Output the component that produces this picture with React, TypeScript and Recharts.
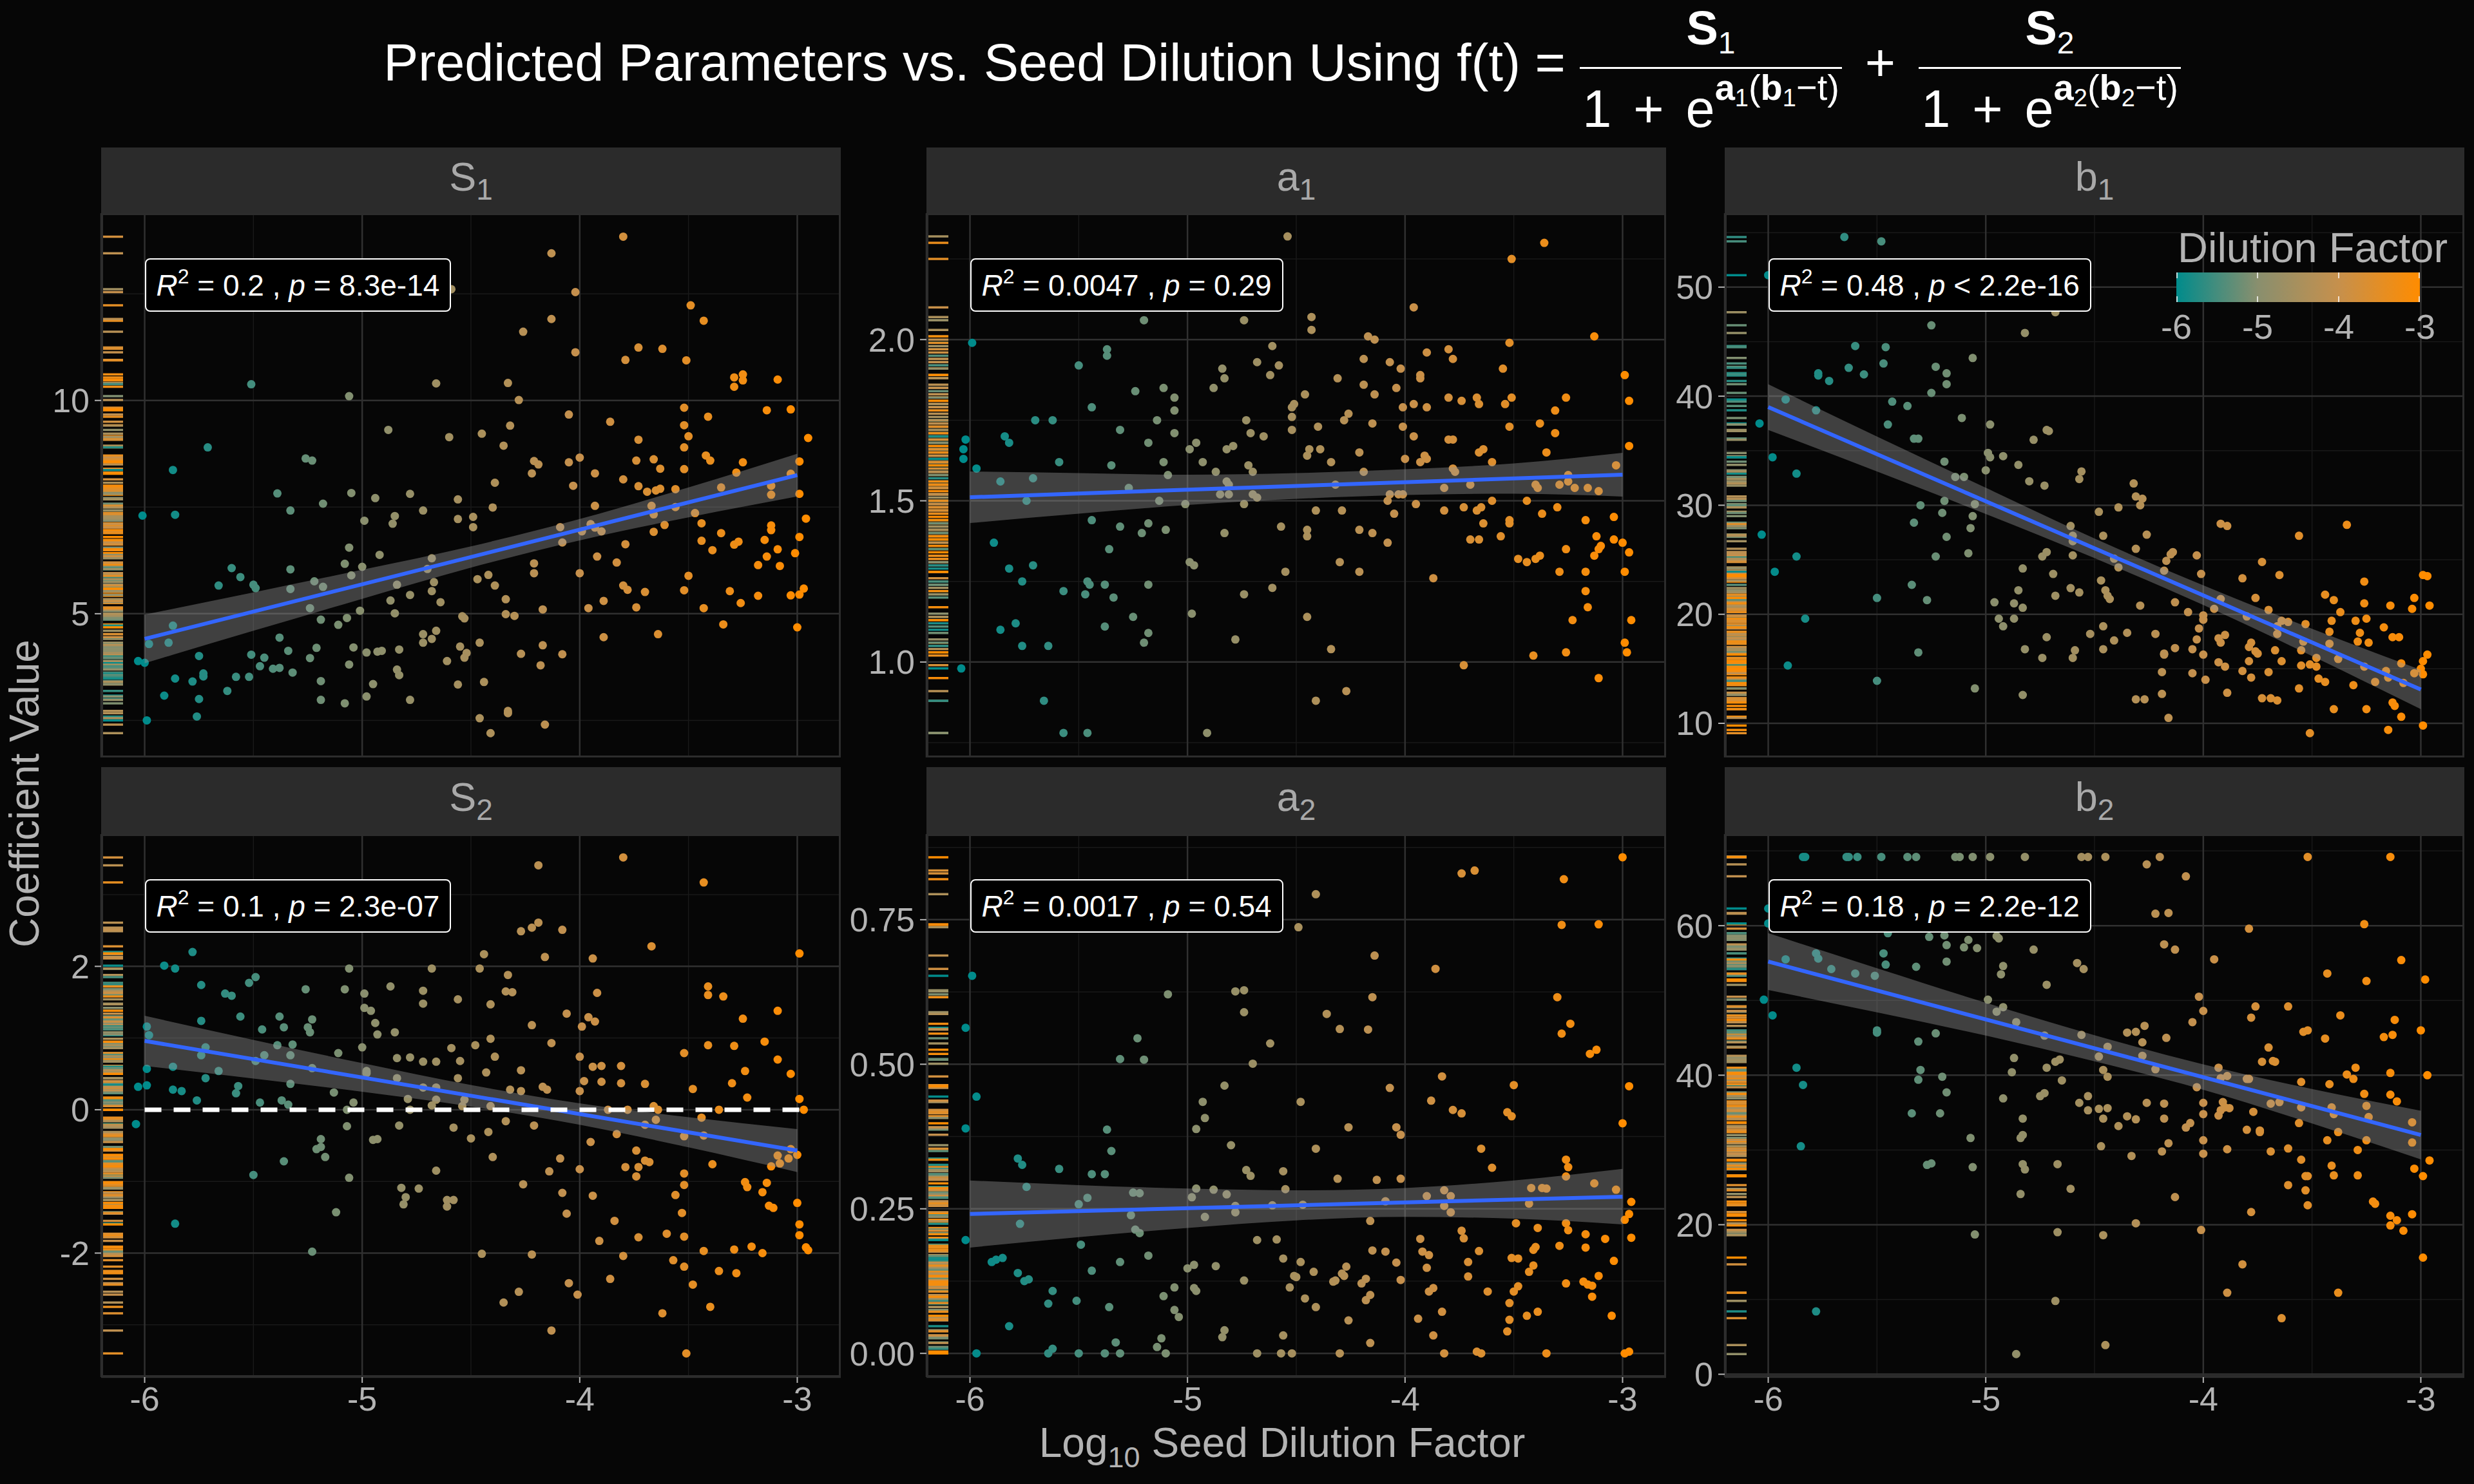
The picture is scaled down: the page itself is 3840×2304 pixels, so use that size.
import React from "react";
import {
  ComposedChart,
  Scatter,
  Area,
  Line,
  XAxis,
  YAxis,
  CartesianGrid,
  ReferenceLine,
} from "recharts";

const FONT = '"Liberation Sans", Arial, Helvetica, sans-serif';
const BG = "#060606";
const STRIP = "#2b2b2b";
const GRID_MAJOR = "#303030";
const GRID_MINOR = "#191919";
const TEXT = "#b3b3b3";
const BLUE = "#3366ff";

// ── shared x scale ───────────────────────────────────────────────
const X_DOMAIN: [number, number] = [-6.2, -2.8];
const X_TICKS = [-6, -5, -4, -3];
const X_MINOR = [-5.5, -4.5, -3.5];
const FIT_X = [-6, -5.5, -5, -4.5, -4, -3.5, -3];
const LEGEND_TICKS = [-6, -5, -4, -3];

// ── S1 ───────────────────────────────────────────────────────────
const S1_POINTS: [number, number][] = [
  [-3.8, 13.84], [-4.13, 13.45], [-4.02, 12.54], [-3.49, 12.23], [-3.43, 11.87], [-4.13, 11.91], [-4.26, 11.61], [-4.02, 11.13],
  [-3.73, 11.24], [-3.62, 11.21], [-3.79, 10.95], [-3.51, 10.94], [-4.33, 10.41], [-4.66, 10.4], [-5.51, 10.38], [-5.06, 10.1],
  [-4.28, 10.01], [-3.29, 10.54], [-3.25, 10.61], [-3.29, 10.32], [-3.25, 10.47], [-3.09, 10.49], [-3.52, 9.83], [-3.14, 9.77],
  [-3.03, 9.79], [-3.41, 9.62], [-4.05, 9.67], [-3.86, 9.5], [-3.52, 9.42], [-4.32, 9.41], [-4.88, 9.31], [-3.5, 9.16],
  [-2.95, 9.12], [-4.6, 9.14], [-4.45, 9.22], [-3.73, 9.08], [-4.35, 8.94], [-3.52, 8.9], [-5.71, 8.9], [-3.42, 8.71],
  [-3.4, 8.59], [-5.26, 8.64], [-5.23, 8.59], [-4.21, 8.58], [-4.19, 8.5], [-4.0, 8.66], [-4.05, 8.55], [-3.74, 8.59],
  [-3.66, 8.62], [-3.25, 8.55], [-2.99, 8.57], [-3.63, 8.4], [-3.52, 8.39], [-5.87, 8.37], [-4.22, 8.29], [-3.93, 8.29],
  [-3.28, 8.31], [-3.03, 8.28], [-4.39, 8.07], [-3.8, 8.15], [-4.03, 8.0], [-3.73, 7.99], [-3.69, 7.86], [-3.65, 7.89],
  [-3.63, 7.93], [-3.56, 7.92], [-3.35, 7.96], [-3.12, 8.0], [-3.12, 7.79], [-2.99, 7.81], [-5.39, 7.82], [-5.05, 7.83],
  [-4.78, 7.81], [-4.94, 7.71], [-4.56, 7.68], [-5.18, 7.58], [-3.93, 7.53], [-3.67, 7.53], [-3.56, 7.5], [-4.4, 7.49],
  [-5.33, 7.42], [-4.72, 7.42], [-3.47, 7.36], [-5.86, 7.32], [-6.01, 7.3], [-2.96, 7.23], [-4.85, 7.29], [-4.49, 7.27],
  [-4.56, 7.22], [-3.66, 7.33], [-4.99, 7.18], [-4.86, 7.11], [-3.44, 7.12], [-3.61, 7.08], [-3.12, 7.07], [-4.49, 7.03],
  [-4.09, 7.03], [-3.95, 7.1], [-3.93, 7.02], [-3.9, 6.93], [-3.99, 6.93], [-3.66, 6.92], [-3.35, 6.89], [-3.12, 6.96],
  [-2.99, 6.8], [-3.44, 6.71], [-3.27, 6.69], [-3.29, 6.62], [-3.15, 6.73], [-4.08, 6.67], [-3.79, 6.63], [-5.06, 6.55],
  [-3.39, 6.49], [-3.09, 6.51], [-3.01, 6.42], [-4.92, 6.38], [-3.14, 6.34], [-3.92, 6.34], [-4.68, 6.3], [-5.08, 6.17],
  [-4.21, 6.18], [-4.21, 5.95], [-3.83, 6.2], [-3.18, 6.14], [-3.08, 6.12], [-5.0, 6.1], [-5.6, 6.07], [-5.33, 6.04],
  [-4.7, 6.05], [-5.56, 5.86], [-5.05, 5.9], [-4.0, 5.95], [-4.42, 5.91], [-3.5, 5.89], [-4.47, 5.81], [-5.22, 5.76],
  [-4.67, 5.74], [-5.5, 5.68], [-5.49, 5.6], [-5.66, 5.66], [-5.18, 5.63], [-4.84, 5.68], [-4.39, 5.66], [-5.33, 5.58],
  [-3.8, 5.66], [-3.78, 5.56], [-3.52, 5.55], [-3.7, 5.51], [-3.31, 5.53], [-3.03, 5.43], [-2.99, 5.45], [-2.97, 5.59],
  [-3.18, 5.42], [-4.68, 5.53], [-4.78, 5.44], [-4.34, 5.34], [-3.26, 5.25], [-4.87, 5.31], [-4.64, 5.27], [-3.89, 5.3],
  [-5.24, 5.13], [-5.01, 5.07], [-3.96, 5.13], [-4.17, 5.1], [-3.74, 5.15], [-3.43, 5.13], [-4.85, 5.01], [-4.34, 4.99],
  [-4.3, 4.95], [-4.54, 4.94], [-4.53, 4.89], [-5.19, 4.86], [-5.07, 4.9], [-5.11, 4.74], [-3.34, 4.75], [-5.87, 4.72],
  [-3.0, 4.68], [-4.66, 4.6], [-4.72, 4.52], [-3.64, 4.52], [-4.68, 4.41], [-5.38, 4.44], [-5.98, 4.29], [-5.89, 4.32],
  [-4.46, 4.32], [-4.72, 4.32], [-3.89, 4.45], [-4.17, 4.26], [-4.55, 4.23], [-5.21, 4.2], [-5.04, 4.21], [-4.83, 4.16],
  [-5.34, 4.13], [-4.93, 4.11], [-4.91, 4.13], [-4.98, 4.09], [-5.51, 4.04], [-5.75, 4.01], [-4.27, 4.06], [-4.08, 4.05],
  [-4.52, 4.08], [-4.53, 3.97], [-5.45, 3.97], [-5.24, 3.96], [-6.03, 3.89], [-6.0, 3.85], [-4.61, 3.89], [-5.06, 3.81],
  [-4.18, 3.79], [-5.47, 3.77], [-5.41, 3.71], [-5.38, 3.73], [-4.84, 3.69], [-4.83, 3.56], [-5.32, 3.62], [-5.73, 3.6],
  [-5.73, 3.53], [-5.58, 3.52], [-5.52, 3.52], [-5.86, 3.48], [-5.78, 3.41], [-5.19, 3.42], [-4.44, 3.4], [-4.56, 3.34],
  [-4.95, 3.35], [-5.62, 3.19], [-5.91, 3.08], [-4.98, 3.06], [-5.75, 3.0], [-5.19, 2.98], [-5.08, 2.9], [-4.78, 2.98],
  [-4.33, 2.72], [-4.33, 2.67], [-5.76, 2.59], [-4.46, 2.55], [-5.99, 2.5], [-4.16, 2.4], [-4.41, 2.2], [-4.59, 12.61],
];
const S1_FIT = [4.41, 8.25];
const S1_HI = [4.98, 5.5, 6.03, 6.58, 7.22, 7.96, 8.75];
const S1_LO = [3.84, 4.6, 5.35, 6.08, 6.72, 7.26, 7.75];

// ── a1 ───────────────────────────────────────────────────────────
const A1_POINTS: [number, number][] = [
  [-4.54, 2.32], [-3.36, 2.3], [-3.51, 2.25], [-3.96, 2.1], [-5.2, 2.06], [-4.74, 2.06], [-4.43, 2.07], [-4.43, 2.03],
  [-5.99, 1.99], [-4.17, 2.01], [-4.14, 2.0], [-3.13, 2.01], [-3.52, 1.99], [-5.37, 1.97], [-5.37, 1.95], [-4.61, 1.98],
  [-3.8, 1.97], [-3.9, 1.96], [-3.78, 1.94], [-4.19, 1.94], [-4.68, 1.93], [-4.07, 1.93], [-4.58, 1.92], [-5.5, 1.92],
  [-4.02, 1.91], [-3.55, 1.91], [-4.84, 1.91], [-4.83, 1.88], [-4.62, 1.89], [-3.93, 1.89], [-3.93, 1.88], [-2.99, 1.89],
  [-4.31, 1.88], [-5.24, 1.84], [-5.11, 1.85], [-4.88, 1.85], [-4.19, 1.86], [-4.04, 1.85], [-4.46, 1.83], [-4.14, 1.83],
  [-3.8, 1.82], [-3.74, 1.81], [-3.67, 1.82], [-3.66, 1.8], [-3.51, 1.82], [-3.26, 1.82], [-2.97, 1.81], [-5.06, 1.82],
  [-3.96, 1.8], [-3.9, 1.79], [-3.54, 1.8], [-4.51, 1.8], [-4.52, 1.79], [-5.44, 1.79], [-5.06, 1.78], [-4.01, 1.79],
  [-3.31, 1.78], [-5.7, 1.75], [-5.62, 1.75], [-5.14, 1.75], [-4.73, 1.75], [-4.28, 1.75], [-4.26, 1.77], [-4.52, 1.76],
  [-3.38, 1.74], [-4.15, 1.74], [-4.01, 1.73], [-4.4, 1.73], [-5.31, 1.72], [-4.71, 1.71], [-4.52, 1.72], [-5.06, 1.71],
  [-3.31, 1.71], [-3.52, 1.73], [-4.65, 1.7], [-3.96, 1.7], [-5.84, 1.7], [-6.02, 1.69], [-5.82, 1.68], [-3.8, 1.69],
  [-3.78, 1.69], [-5.18, 1.68], [-4.96, 1.68], [-4.99, 1.66], [-4.82, 1.66], [-4.79, 1.67], [-2.97, 1.67], [-6.03, 1.66],
  [-4.44, 1.66], [-4.45, 1.64], [-4.39, 1.66], [-4.21, 1.65], [-3.66, 1.65], [-3.64, 1.66], [-3.35, 1.65], [-3.91, 1.64],
  [-3.9, 1.63], [-4.0, 1.63], [-6.03, 1.63], [-5.59, 1.62], [-5.11, 1.62], [-4.93, 1.62], [-4.72, 1.61], [-4.34, 1.62],
  [-3.93, 1.62], [-3.6, 1.62], [-5.97, 1.6], [-5.35, 1.61], [-3.78, 1.6], [-3.77, 1.59], [-4.87, 1.59], [-4.7, 1.59],
  [-4.19, 1.59], [-3.03, 1.61], [-3.25, 1.58], [-5.09, 1.58], [-5.71, 1.57], [-5.86, 1.56], [-4.82, 1.56], [-4.81, 1.55],
  [-4.32, 1.55], [-3.7, 1.55], [-3.4, 1.55], [-3.39, 1.54], [-3.29, 1.55], [-3.25, 1.56], [-3.22, 1.54], [-3.16, 1.54],
  [-3.11, 1.53], [-5.27, 1.54], [-3.82, 1.54], [-4.85, 1.52], [-4.81, 1.52], [-4.7, 1.52], [-4.68, 1.51], [-4.07, 1.52],
  [-4.03, 1.52], [-4.01, 1.52], [-5.74, 1.5], [-5.13, 1.5], [-5.01, 1.49], [-4.08, 1.5], [-3.6, 1.5], [-3.44, 1.5],
  [-4.74, 1.49], [-3.95, 1.49], [-3.3, 1.48], [-4.41, 1.47], [-4.29, 1.47], [-3.82, 1.47], [-3.73, 1.48], [-3.67, 1.47],
  [-3.65, 1.48], [-4.05, 1.46], [-3.37, 1.46], [-3.04, 1.45], [-5.44, 1.44], [-3.64, 1.43], [-3.52, 1.44], [-3.52, 1.43],
  [-3.17, 1.44], [-5.31, 1.42], [-5.18, 1.43], [-5.1, 1.41], [-4.57, 1.42], [-4.21, 1.41], [-4.83, 1.4], [-4.45, 1.41],
  [-4.45, 1.39], [-4.15, 1.4], [-5.21, 1.4], [-3.56, 1.39], [-3.7, 1.38], [-3.66, 1.38], [-3.12, 1.39], [-3.04, 1.38],
  [-3.0, 1.37], [-5.89, 1.37], [-4.08, 1.37], [-3.1, 1.36], [-3.11, 1.35], [-3.13, 1.33], [-3.26, 1.35], [-2.97, 1.34],
  [-5.36, 1.35], [-3.48, 1.32], [-3.44, 1.31], [-3.4, 1.32], [-3.38, 1.33], [-4.3, 1.31], [-4.99, 1.31], [-4.97, 1.3],
  [-5.71, 1.3], [-5.82, 1.29], [-4.55, 1.28], [-4.21, 1.28], [-3.29, 1.28], [-3.17, 1.28], [-2.99, 1.28], [-3.87, 1.26],
  [-5.76, 1.25], [-5.46, 1.25], [-5.45, 1.24], [-5.38, 1.24], [-5.18, 1.24], [-4.61, 1.23], [-5.57, 1.22], [-5.47, 1.21],
  [-4.74, 1.21], [-3.17, 1.22], [-5.34, 1.2], [-3.16, 1.17], [-4.98, 1.15], [-5.25, 1.14], [-4.45, 1.14], [-3.23, 1.13],
  [-2.96, 1.13], [-5.79, 1.12], [-5.86, 1.1], [-5.38, 1.11], [-5.18, 1.09], [-4.78, 1.07], [-2.99, 1.06], [-5.76, 1.05],
  [-5.64, 1.05], [-5.2, 1.06], [-4.34, 1.04], [-3.41, 1.02], [-3.26, 1.03], [-2.98, 1.03], [-3.73, 0.99], [-6.04, 0.98],
  [-3.11, 0.95], [-4.27, 0.91], [-4.41, 0.88], [-5.66, 0.88], [-5.57, 0.78], [-5.46, 0.78], [-4.91, 0.78],
];
const A1_FIT = [1.511, 1.581];
const A1_HI = [1.591, 1.586, 1.581, 1.586, 1.598, 1.616, 1.649];
const A1_LO = [1.431, 1.46, 1.487, 1.506, 1.518, 1.522, 1.513];

// ── b1 ───────────────────────────────────────────────────────────
const B1_POINTS: [number, number][] = [
  [-5.65, 54.6], [-5.48, 54.2], [-6.0, 51.1], [-4.68, 47.7], [-5.25, 46.5], [-4.82, 45.8], [-5.6, 44.6], [-5.46, 44.5],
  [-5.47, 43.0], [-5.23, 42.7], [-5.63, 42.6], [-5.06, 43.5], [-5.18, 42.1], [-5.18, 41.1], [-5.77, 42.1], [-5.77, 41.9],
  [-5.56, 42.0], [-5.72, 41.4], [-5.25, 40.3], [-5.92, 39.7], [-5.43, 39.5], [-5.36, 39.1], [-5.78, 38.7], [-5.11, 38.0],
  [-6.04, 37.5], [-5.45, 37.4], [-4.98, 37.4], [-4.72, 36.9], [-4.71, 36.8], [-5.33, 36.1], [-5.31, 36.1], [-4.78, 36.0],
  [-4.99, 34.8], [-4.98, 34.4], [-4.92, 34.5], [-5.98, 34.4], [-5.19, 34.0], [-4.85, 33.7], [-5.0, 33.2], [-5.87, 32.9],
  [-4.56, 33.1], [-5.14, 32.6], [-5.1, 32.6], [-4.57, 32.4], [-4.8, 32.2], [-4.73, 31.8], [-4.32, 32.0], [-4.31, 30.8],
  [-4.28, 30.6], [-4.29, 30.0], [-5.19, 30.4], [-5.05, 30.1], [-5.3, 30.0], [-4.39, 29.8], [-4.48, 29.4], [-5.2, 29.3],
  [-5.06, 29.0], [-5.33, 28.4], [-3.92, 28.3], [-3.89, 28.1], [-3.34, 28.2], [-4.61, 28.1], [-5.07, 27.9], [-3.56, 27.2],
  [-5.18, 27.1], [-6.03, 27.3], [-4.6, 27.2], [-4.6, 26.7], [-4.46, 27.2], [-4.26, 27.3], [-4.31, 26.0], [-4.72, 25.7],
  [-4.74, 25.3], [-4.6, 25.4], [-5.23, 25.3], [-5.08, 25.6], [-5.87, 25.3], [-4.15, 25.5], [-4.14, 25.7], [-4.03, 25.4],
  [-4.41, 25.1], [-4.17, 24.9], [-3.73, 24.8], [-4.39, 24.3], [-4.18, 24.0], [-4.83, 24.2], [-5.97, 23.9], [-4.69, 23.7],
  [-4.01, 23.7], [-3.65, 23.6], [-3.82, 23.3], [-2.99, 23.6], [-2.97, 23.5], [-3.26, 23.0], [-4.47, 23.1], [-4.61, 22.4],
  [-5.34, 22.7], [-4.45, 22.2], [-4.43, 21.4], [-4.44, 21.7], [-4.57, 22.0], [-4.85, 22.2], [-4.68, 21.7], [-5.5, 21.5],
  [-3.92, 21.4], [-3.76, 21.5], [-3.44, 21.8], [-3.4, 21.3], [-5.27, 21.3], [-4.96, 21.1], [-4.87, 21.0], [-4.83, 20.6],
  [-4.13, 21.1], [-3.26, 21.0], [-3.14, 20.8], [-3.03, 21.5], [-3.04, 20.5], [-2.96, 20.8], [-4.29, 20.8], [-3.95, 20.5],
  [-3.7, 20.4], [-4.07, 20.2], [-3.37, 20.2], [-4.0, 19.9], [-4.0, 19.5], [-3.8, 19.8], [-4.94, 19.6], [-5.83, 19.6],
  [-4.87, 19.6], [-3.25, 19.6], [-3.3, 19.4], [-3.41, 19.4], [-3.64, 19.4], [-3.61, 19.3], [-3.53, 19.1], [-3.66, 18.9],
  [-3.66, 18.2], [-4.92, 18.9], [-4.46, 18.9], [-4.02, 18.7], [-3.17, 18.8], [-3.42, 18.4], [-4.52, 18.2], [-4.35, 18.3],
  [-3.9, 18.1], [-3.28, 18.3], [-4.22, 18.2], [-3.13, 17.9], [-3.1, 17.9], [-4.72, 17.9], [-3.93, 17.8], [-3.92, 17.4],
  [-4.03, 17.7], [-4.41, 17.6], [-3.78, 17.4], [-3.54, 17.5], [-3.29, 17.5], [-3.24, 17.4], [-3.42, 17.3], [-3.79, 17.0],
  [-4.13, 16.9], [-4.05, 16.8], [-3.67, 16.7], [-3.55, 16.7], [-3.76, 16.6], [-3.75, 16.4], [-4.82, 16.8], [-4.59, 16.7],
  [-4.6, 16.0], [-4.46, 16.8], [-5.31, 16.5], [-4.18, 16.4], [-4.18, 16.3], [-4.0, 16.3], [-2.97, 16.3], [-4.74, 16.0],
  [-3.48, 16.0], [-3.38, 15.9], [-3.79, 15.7], [-3.93, 15.6], [-3.64, 15.7], [-3.09, 15.5], [-2.99, 15.7], [-3.9, 15.2],
  [-3.55, 15.3], [-3.51, 15.4], [-3.48, 15.2], [-5.91, 15.3], [-3.26, 15.2], [-3.0, 15.0], [-4.19, 14.7], [-3.82, 14.8],
  [-3.7, 14.7], [-3.16, 14.8], [-3.03, 14.6], [-2.99, 14.5], [-4.05, 14.6], [-3.78, 14.2], [-3.15, 14.2], [-3.47, 14.1],
  [-3.44, 13.8], [-3.99, 14.0], [-3.21, 13.8], [-3.08, 13.7], [-5.5, 13.9], [-3.31, 13.5], [-3.56, 13.2], [-5.05, 13.2],
  [-3.89, 12.8], [-4.19, 12.7], [-4.83, 12.6], [-4.31, 12.2], [-4.27, 12.2], [-3.73, 12.3], [-3.69, 12.3], [-3.66, 12.1],
  [-3.13, 11.9], [-3.12, 11.6], [-3.4, 11.3], [-3.25, 11.3], [-3.09, 10.6], [-4.16, 10.5], [-2.99, 9.8], [-3.15, 9.4],
  [-3.51, 9.1],
];
const B1_FIT = [39.0, 13.1];
const B1_HI = [41.1, 36.3, 31.6, 26.95, 22.65, 18.67, 14.9];
const B1_LO = [36.9, 33.1, 29.2, 25.15, 20.85, 16.17, 11.3];

// ── S2 ───────────────────────────────────────────────────────────
const S2_POINTS: [number, number][] = [
  [-3.8, 3.52], [-4.19, 3.41], [-3.43, 3.17], [-4.27, 2.49], [-4.22, 2.54], [-4.19, 2.61], [-4.08, 2.51], [-3.67, 2.28],
  [-5.78, 2.2], [-4.44, 2.17], [-4.16, 2.13], [-3.94, 2.11], [-2.99, 2.18], [-5.91, 2.01], [-5.86, 1.97], [-5.06, 1.97],
  [-4.68, 1.97], [-4.46, 1.97], [-4.33, 1.88], [-5.49, 1.85], [-5.52, 1.77], [-5.74, 1.74], [-4.87, 1.72], [-3.41, 1.72],
  [-3.41, 1.6], [-5.26, 1.68], [-5.08, 1.68], [-4.72, 1.66], [-4.72, 1.48], [-4.34, 1.65], [-4.31, 1.64], [-5.63, 1.62],
  [-5.6, 1.59], [-4.99, 1.62], [-3.92, 1.63], [-3.34, 1.58], [-4.56, 1.54], [-4.41, 1.47], [-4.99, 1.42], [-4.96, 1.38],
  [-3.09, 1.38], [-4.06, 1.34], [-5.56, 1.3], [-5.38, 1.3], [-3.96, 1.29], [-3.25, 1.27], [-5.74, 1.24], [-5.23, 1.26],
  [-4.94, 1.21], [-3.93, 1.23], [-4.22, 1.18], [-3.99, 1.16], [-5.99, 1.16], [-5.98, 1.04], [-5.36, 1.15], [-5.25, 1.15],
  [-5.24, 1.08], [-5.46, 1.12], [-4.85, 1.08], [-4.93, 1.05], [-4.41, 0.99], [-4.13, 0.93], [-3.41, 0.9], [-3.29, 0.89],
  [-3.15, 0.95], [-5.39, 0.9], [-5.32, 0.91], [-4.48, 0.9], [-5.72, 0.87], [-5.0, 0.87], [-4.59, 0.86], [-5.11, 0.79],
  [-3.52, 0.79], [-5.45, 0.76], [-5.74, 0.76], [-5.33, 0.76], [-4.39, 0.74], [-4.0, 0.74], [-4.84, 0.72], [-4.78, 0.73],
  [-3.09, 0.7], [-5.49, 0.68], [-4.72, 0.67], [-4.66, 0.67], [-4.55, 0.68], [-3.94, 0.6], [-3.9, 0.61], [-3.81, 0.61],
  [-5.87, 0.6], [-5.99, 0.57], [-5.23, 0.58], [-4.98, 0.54], [-4.98, 0.51], [-3.24, 0.54], [-5.66, 0.54], [-4.27, 0.55],
  [-4.43, 0.52], [-3.03, 0.5], [-5.72, 0.44], [-4.84, 0.44], [-4.56, 0.44], [-3.98, 0.4], [-3.9, 0.39], [-3.81, 0.37],
  [-3.7, 0.36], [-3.3, 0.37], [-5.33, 0.36], [-5.57, 0.33], [-6.03, 0.32], [-5.99, 0.34], [-4.72, 0.31], [-4.66, 0.31],
  [-4.17, 0.32], [-4.15, 0.28], [-3.48, 0.29], [-5.87, 0.28], [-5.83, 0.26], [-4.32, 0.28], [-4.27, 0.26], [-4.0, 0.26],
  [-5.58, 0.23], [-5.13, 0.24], [-3.23, 0.17], [-4.79, 0.15], [-4.66, 0.14], [-4.53, 0.14], [-2.99, 0.15], [-5.76, 0.13],
  [-5.47, 0.1], [-5.37, 0.13], [-5.34, 0.07], [-5.04, 0.1], [-4.68, 0.06], [-4.54, 0.05], [-4.41, 0.05], [-3.66, 0.05],
  [-5.07, 0.0], [-4.78, 0.0], [-3.87, 0.0], [-3.78, 0.0], [-3.64, 0.0], [-3.36, 0.0], [-2.97, 0.0], [-6.04, -0.2],
  [-3.65, -0.14], [-3.7, -0.21], [-3.44, -0.11], [-4.34, -0.16], [-4.83, -0.22], [-5.07, -0.23], [-4.58, -0.25], [-4.21, -0.22],
  [-4.42, -0.31], [-3.83, -0.34], [-3.52, -0.37], [-3.43, -0.36], [-4.5, -0.4], [-5.19, -0.41], [-4.95, -0.42], [-4.93, -0.41],
  [-3.95, -0.45], [-5.21, -0.55], [-5.19, -0.52], [-3.74, -0.57], [-3.03, -0.55], [-3.0, -0.63], [-5.17, -0.66], [-4.4, -0.66],
  [-4.09, -0.68], [-3.09, -0.64], [-3.08, -0.75], [-3.04, -0.68], [-3.7, -0.71], [-3.68, -0.73], [-5.36, -0.72], [-3.39, -0.76],
  [-3.79, -0.8], [-3.73, -0.8], [-3.12, -0.79], [-4.0, -0.83], [-4.66, -0.85], [-4.14, -0.86], [-5.5, -0.91], [-3.74, -0.93],
  [-5.06, -0.95], [-3.52, -0.89], [-4.26, -1.04], [-3.52, -1.05], [-3.24, -1.01], [-3.23, -1.08], [-3.14, -1.02], [-4.82, -1.09],
  [-4.74, -1.1], [-3.16, -1.15], [-4.08, -1.16], [-4.8, -1.22], [-4.81, -1.32], [-3.94, -1.2], [-3.56, -1.19], [-4.61, -1.26],
  [-4.58, -1.26], [-4.61, -1.35], [-3.13, -1.34], [-3.11, -1.37], [-3.0, -1.3], [-5.12, -1.43], [-4.06, -1.45], [-3.53, -1.44],
  [-3.84, -1.55], [-5.86, -1.59], [-2.99, -1.6], [-2.99, -1.75], [-3.6, -1.73], [-3.52, -1.77], [-3.73, -1.78], [-3.91, -1.83],
  [-2.96, -1.92], [-2.95, -1.96], [-3.29, -1.95], [-3.21, -1.91], [-3.43, -1.97], [-3.16, -2.0], [-5.23, -1.98], [-4.45, -2.01],
  [-4.22, -2.02], [-3.8, -2.04], [-3.57, -2.1], [-3.52, -2.19], [-3.36, -2.25], [-3.28, -2.28], [-3.86, -2.36], [-4.05, -2.42],
  [-3.48, -2.44], [-4.28, -2.54], [-4.01, -2.58], [-4.35, -2.69], [-3.4, -2.75], [-3.62, -2.84], [-4.13, -3.08], [-3.51, -3.4],
];
const S2_FIT = [0.96, -0.57];
const S2_HI = [1.31, 0.975, 0.65, 0.345, 0.09, -0.105, -0.27];
const S2_LO = [0.61, 0.435, 0.25, 0.045, -0.21, -0.525, -0.87];
const S2_ZERO = [-6, -2.97];

// ── a2 ───────────────────────────────────────────────────────────
const A2_POINTS: [number, number][] = [
  [-3.0, 0.858], [-3.74, 0.83], [-3.68, 0.835], [-3.27, 0.82], [-4.41, 0.794], [-4.49, 0.737], [-3.28, 0.741], [-3.11, 0.742],
  [-4.14, 0.688], [-3.86, 0.665], [-5.99, 0.653], [-4.78, 0.626], [-4.74, 0.628], [-5.09, 0.621], [-4.15, 0.616], [-3.3, 0.616],
  [-4.74, 0.59], [-4.36, 0.587], [-6.02, 0.563], [-4.3, 0.561], [-4.17, 0.56], [-3.28, 0.553], [-3.24, 0.57], [-5.23, 0.545],
  [-4.62, 0.536], [-5.31, 0.509], [-5.2, 0.508], [-3.15, 0.518], [-3.12, 0.525], [-4.7, 0.501], [-3.83, 0.479], [-4.83, 0.463],
  [-3.5, 0.464], [-4.07, 0.459], [-2.97, 0.462], [-5.97, 0.444], [-4.93, 0.435], [-4.48, 0.435], [-3.88, 0.437], [-3.78, 0.421],
  [-3.74, 0.415], [-3.53, 0.417], [-3.51, 0.41], [-4.92, 0.407], [-3.0, 0.398], [-6.02, 0.389], [-5.37, 0.387], [-4.96, 0.388],
  [-4.26, 0.391], [-4.04, 0.391], [-4.02, 0.378], [-4.8, 0.36], [-5.35, 0.35], [-4.41, 0.354], [-3.65, 0.354], [-5.78, 0.337],
  [-5.76, 0.326], [-3.26, 0.335], [-3.25, 0.322], [-3.26, 0.306], [-3.6, 0.321], [-5.59, 0.319], [-4.73, 0.317], [-4.71, 0.307],
  [-4.56, 0.315], [-5.44, 0.31], [-5.38, 0.31], [-4.31, 0.302], [-4.13, 0.3], [-4.02, 0.302], [-3.13, 0.294], [-5.74, 0.288],
  [-4.96, 0.285], [-4.55, 0.284], [-4.88, 0.283], [-3.42, 0.286], [-3.37, 0.286], [-3.35, 0.285], [-3.03, 0.283], [-3.82, 0.282],
  [-5.25, 0.278], [-5.22, 0.277], [-4.82, 0.275], [-3.9, 0.272], [-3.79, 0.272], [-4.98, 0.27], [-5.46, 0.269], [-2.96, 0.262],
  [-5.5, 0.258], [-4.61, 0.256], [-4.47, 0.257], [-4.09, 0.263], [-3.43, 0.259], [-4.78, 0.255], [-4.78, 0.244], [-3.82, 0.255],
  [-3.79, 0.244], [-2.97, 0.241], [-2.99, 0.231], [-5.26, 0.239], [-4.92, 0.236], [-4.16, 0.229], [-3.49, 0.225], [-3.26, 0.225],
  [-3.25, 0.213], [-5.77, 0.224], [-3.39, 0.217], [-5.24, 0.214], [-5.22, 0.208], [-3.74, 0.212], [-3.73, 0.199], [-3.17, 0.206],
  [-3.08, 0.198], [-2.96, 0.2], [-3.93, 0.198], [-4.68, 0.196], [-4.59, 0.197], [-6.02, 0.196], [-5.49, 0.188], [-3.29, 0.186],
  [-3.17, 0.183], [-3.92, 0.176], [-3.89, 0.17], [-3.9, 0.148], [-4.15, 0.178], [-4.09, 0.176], [-3.66, 0.177], [-3.41, 0.179],
  [-3.4, 0.184], [-5.18, 0.169], [-3.51, 0.165], [-3.48, 0.164], [-3.04, 0.16], [-4.56, 0.164], [-5.31, 0.158], [-4.48, 0.158],
  [-3.71, 0.158], [-5.9, 0.158], [-5.88, 0.162], [-5.85, 0.165], [-4.04, 0.157], [-4.97, 0.153], [-5.0, 0.147], [-4.87, 0.151],
  [-4.27, 0.15], [-3.41, 0.152], [-5.44, 0.143], [-4.42, 0.141], [-5.78, 0.139], [-3.43, 0.141], [-4.29, 0.138], [-4.28, 0.134],
  [-4.51, 0.134], [-4.5, 0.132], [-4.18, 0.129], [-3.71, 0.133], [-3.11, 0.134], [-5.75, 0.125], [-5.73, 0.128], [-4.74, 0.126],
  [-4.33, 0.124], [-4.32, 0.126], [-4.2, 0.121], [-4.02, 0.127], [-3.26, 0.121], [-3.18, 0.124], [-3.16, 0.119], [-3.14, 0.117],
  [-3.48, 0.116], [-5.06, 0.114], [-4.97, 0.113], [-4.96, 0.108], [-4.53, 0.114], [-3.87, 0.113], [-3.89, 0.107], [-5.62, 0.108],
  [-3.62, 0.107], [-3.5, 0.107], [-5.11, 0.099], [-4.16, 0.101], [-4.18, 0.092], [-4.46, 0.095], [-3.14, 0.098], [-5.51, 0.091],
  [-5.64, 0.086], [-3.52, 0.087], [-5.36, 0.08], [-4.41, 0.08], [-5.06, 0.075], [-5.04, 0.063], [-3.83, 0.072], [-3.39, 0.072],
  [-3.44, 0.065], [-3.05, 0.065], [-3.94, 0.06], [-4.26, 0.057], [-3.52, 0.058], [-5.82, 0.047], [-4.83, 0.04], [-4.84, 0.028],
  [-3.53, 0.038], [-4.56, 0.031], [-3.87, 0.031], [-5.12, 0.026], [-5.33, 0.019], [-4.16, 0.018], [-5.14, 0.011], [-5.62, 0.008],
  [-5.97, 0.0], [-5.64, 0.0], [-5.5, 0.0], [-5.38, 0.0], [-5.31, 0.0], [-5.1, 0.0], [-4.68, 0.0], [-4.57, 0.0],
  [-4.52, 0.0], [-4.3, 0.0], [-3.82, 0.0], [-3.67, 0.003], [-3.65, 0.0], [-3.35, 0.0], [-2.99, 0.0], [-2.97, 0.003],
];
const A2_FIT = [0.241, 0.271];
const A2_HI = [0.299, 0.291, 0.285, 0.282, 0.286, 0.299, 0.319];
const A2_LO = [0.183, 0.201, 0.217, 0.23, 0.236, 0.233, 0.223];

// ── b2 ───────────────────────────────────────────────────────────
const B2_POINTS: [number, number][] = [
  [-5.84, 69.2], [-5.83, 69.2], [-5.64, 69.2], [-5.63, 69.2], [-5.59, 69.2], [-5.48, 69.2], [-5.36, 69.2], [-5.32, 69.2],
  [-5.14, 69.2], [-5.12, 69.2], [-5.06, 69.2], [-4.98, 69.2], [-4.82, 69.2], [-4.56, 69.2], [-4.53, 69.2], [-4.45, 69.2],
  [-4.2, 69.2], [-3.52, 69.2], [-3.14, 69.2], [-4.26, 68.2], [-4.08, 66.6], [-4.22, 61.6], [-4.16, 61.7], [-3.79, 59.6],
  [-3.26, 60.2], [-6.0, 62.3], [-6.0, 60.3], [-5.45, 59.0], [-5.26, 58.5], [-5.19, 58.7], [-5.08, 58.1], [-4.95, 58.6],
  [-4.94, 58.3], [-5.18, 57.4], [-5.1, 57.1], [-5.04, 57.0], [-4.18, 57.5], [-4.13, 56.8], [-4.78, 56.8], [-5.78, 56.3],
  [-5.77, 55.6], [-5.47, 56.3], [-5.92, 55.5], [-3.95, 55.5], [-3.09, 55.4], [-5.18, 55.2], [-5.46, 54.8], [-5.32, 54.5],
  [-4.92, 54.6], [-4.58, 55.0], [-4.55, 54.2], [-5.71, 54.2], [-5.6, 53.6], [-5.51, 53.3], [-4.93, 53.5], [-3.43, 53.6],
  [-3.25, 52.6], [-2.98, 52.8], [-4.72, 52.1], [-6.02, 50.1], [-4.02, 50.5], [-4.99, 50.1], [-5.98, 48.0], [-4.95, 48.5],
  [-4.92, 49.1], [-4.0, 48.6], [-3.76, 49.2], [-3.61, 49.2], [-3.78, 47.7], [-3.37, 48.0], [-4.86, 47.1], [-4.05, 47.1],
  [-3.12, 47.4], [-3.0, 46.0], [-4.27, 46.6], [-4.35, 45.7], [-4.31, 45.8], [-3.54, 45.8], [-3.52, 46.0], [-5.5, 46.0],
  [-5.5, 45.7], [-5.23, 45.6], [-4.56, 45.4], [-3.13, 45.4], [-3.17, 45.1], [-4.17, 45.0], [-3.44, 44.9], [-4.73, 45.3],
  [-5.31, 44.5], [-4.28, 44.4], [-3.7, 43.7], [-4.44, 43.8], [-4.48, 42.5], [-4.28, 42.6], [-4.87, 42.3], [-3.73, 41.8],
  [-3.68, 41.9], [-3.67, 41.8], [-4.66, 42.1], [-4.68, 41.8], [-5.87, 41.0], [-4.72, 41.0], [-4.46, 40.7], [-4.22, 40.8],
  [-3.93, 41.0], [-3.3, 41.0], [-5.3, 40.7], [-5.31, 39.4], [-4.88, 40.4], [-3.34, 40.1], [-3.14, 40.3], [-2.97, 40.0],
  [-5.2, 39.8], [-4.44, 39.8], [-3.89, 39.9], [-3.92, 39.6], [-3.8, 39.5], [-3.79, 39.5], [-3.31, 39.5], [-4.65, 39.3],
  [-5.84, 38.7], [-3.55, 39.1], [-3.42, 38.8], [-4.03, 38.4], [-5.18, 37.7], [-4.73, 37.6], [-4.75, 37.2], [-3.26, 37.5],
  [-3.14, 37.4], [-4.53, 37.2], [-4.92, 36.9], [-3.11, 36.5], [-4.57, 36.3], [-4.26, 36.3], [-4.18, 36.2], [-4.0, 36.3],
  [-3.91, 36.4], [-3.9, 35.7], [-3.88, 35.6], [-3.69, 36.2], [-3.65, 36.4], [-3.55, 35.7], [-3.41, 35.7], [-3.4, 34.8],
  [-3.25, 35.9], [-4.53, 35.3], [-4.48, 35.5], [-4.44, 35.6], [-3.92, 35.3], [-3.77, 35.1], [-4.0, 34.8], [-3.93, 34.6],
  [-5.34, 34.9], [-5.21, 34.9], [-4.35, 34.5], [-3.24, 34.4], [-4.83, 34.2], [-4.46, 34.2], [-4.31, 34.1], [-4.18, 34.2],
  [-4.06, 33.6], [-4.08, 33.0], [-3.56, 33.6], [-3.04, 33.7], [-4.39, 33.2], [-3.8, 32.7], [-3.74, 32.6], [-3.74, 32.4],
  [-3.38, 32.4], [-4.83, 32.0], [-4.84, 31.6], [-5.07, 31.6], [-3.43, 31.3], [-3.25, 31.3], [-4.0, 31.3], [-3.04, 31.0],
  [-5.85, 30.5], [-4.47, 30.5], [-4.16, 30.9], [-3.61, 30.2], [-3.69, 29.8], [-4.19, 29.8], [-3.29, 30.0], [-4.0, 29.5],
  [-3.89, 30.1], [-4.33, 29.2], [-3.55, 28.7], [-2.96, 28.6], [-5.27, 28.0], [-5.25, 28.2], [-4.83, 28.1], [-4.82, 27.4],
  [-4.67, 28.1], [-5.06, 27.7], [-3.41, 27.9], [-3.03, 27.5], [-3.4, 26.6], [-3.29, 26.6], [-3.53, 26.5], [-3.52, 26.5],
  [-2.99, 26.5], [-3.61, 25.3], [-4.61, 24.8], [-3.53, 24.6], [-4.84, 24.1], [-4.13, 23.7], [-3.22, 23.1], [-3.21, 22.8],
  [-3.52, 22.6], [-3.78, 21.7], [-3.04, 21.4], [-3.14, 21.2], [-3.11, 20.6], [-3.14, 19.9], [-3.08, 19.2], [-4.31, 20.2],
  [-4.01, 19.3], [-5.05, 18.7], [-4.46, 18.6], [-4.67, 19.0], [-2.99, 15.6], [-3.82, 14.7], [-3.89, 10.9], [-3.38, 10.9],
  [-4.68, 9.8], [-5.78, 8.4], [-3.64, 7.5], [-4.45, 3.9], [-4.86, 2.7],
];
const B2_FIT = [55.2, 32.0];
const B2_HI = [59.0, 54.3, 49.7, 45.35, 41.45, 38.15, 35.25];
const B2_LO = [51.4, 48.4, 45.3, 41.85, 38.05, 33.55, 28.75];

// ── colour scale (darkcyan -> darkorange) ────────────────────────
const GRAD_STOPS: [number, number[]][] = [
  [-6, [0, 139, 139]],
  [-5, [137, 143, 110]],
  [-4, [198, 144, 76]],
  [-3, [255, 140, 0]],
];
function colorAt(x: number) {
  const v = Math.min(-3, Math.max(-6, x));
  for (let i = 0; i < GRAD_STOPS.length - 1; i++) {
    const [x0, c0] = GRAD_STOPS[i];
    const [x1, c1] = GRAD_STOPS[i + 1];
    if (v <= x1) {
      const t = (v - x0) / (x1 - x0);
      return `rgb(${c0.map((c, k) => Math.round(c + (c1[k] - c) * t)).join(",")})`;
    }
  }
  return "rgb(255,140,0)";
}

// ── layout ───────────────────────────────────────────────────────
const COL_LEFT = [157, 1438, 2677];
const PANEL_W = 1148;
const STRIP_TOP = [229, 1191];
const PANEL_TOP = [331, 1295];
const PANEL_H = [845, 843];
const Y_AXIS_W = 150;
const X_AXIS_H = 90;
const xToPx = (x: number) => ((x - X_DOMAIN[0]) / (X_DOMAIN[1] - X_DOMAIN[0])) * PANEL_W;

type Spec = {
  name: string;
  sub: string;
  r2: string;
  op: string;
  p: string;
  points: [number, number][];
  fit: number[];
  hi: number[];
  lo: number[];
  domain: [number, number];
  ticks: number[];
  minor: number[];
  digits: number;
  zero?: number[];
};

const PANELS: Spec[] = [
  { name: "S", sub: "1", r2: "0.2", op: "=", p: "8.3e-14", points: S1_POINTS, fit: S1_FIT, hi: S1_HI, lo: S1_LO,
    domain: [1.63, 14.39], ticks: [5, 10], minor: [2.5, 7.5, 12.5], digits: 0 },
  { name: "a", sub: "1", r2: "0.0047", op: "=", p: "0.29", points: A1_POINTS, fit: A1_FIT, hi: A1_HI, lo: A1_LO,
    domain: [0.704, 2.392], ticks: [1.0, 1.5, 2.0], minor: [0.75, 1.25, 1.75, 2.25], digits: 1 },
  { name: "b", sub: "1", r2: "0.48", op: "<", p: "2.2e-16", points: B1_POINTS, fit: B1_FIT, hi: B1_HI, lo: B1_LO,
    domain: [6.87, 56.78], ticks: [10, 20, 30, 40, 50], minor: [15, 25, 35, 45, 55], digits: 0 },
  { name: "S", sub: "2", r2: "0.1", op: "=", p: "2.3e-07", points: S2_POINTS, fit: S2_FIT, hi: S2_HI, lo: S2_LO,
    domain: [-3.73, 3.845], ticks: [-2, 0, 2], minor: [-3, -1, 1, 3], digits: 0, zero: S2_ZERO },
  { name: "a", sub: "2", r2: "0.0017", op: "=", p: "0.54", points: A2_POINTS, fit: A2_FIT, hi: A2_HI, lo: A2_LO,
    domain: [-0.041, 0.898], ticks: [0, 0.25, 0.5, 0.75], minor: [0.125, 0.375, 0.625, 0.875], digits: 2 },
  { name: "b", sub: "2", r2: "0.18", op: "=", p: "2.2e-12", points: B2_POINTS, fit: B2_FIT, hi: B2_HI, lo: B2_LO,
    domain: [-0.38, 72.25], ticks: [0, 20, 40, 60], minor: [10, 30, 50, 70], digits: 0 },
];

const Dot = (props: any) => {
  const c = props.payload?.c ?? props.fill;
  return <circle cx={props.cx} cy={props.cy} r={6.5} fill={c} />;
};
const RugTick = (props: any) => {
  const c = props.payload?.c ?? props.fill;
  return <line x1={props.cx} x2={props.cx + 34} y1={props.cy} y2={props.cy} stroke={c} strokeWidth={3.5} />;
};

function Panel({ spec, col, row }: { spec: Spec; col: number; row: number }) {
  const left = COL_LEFT[col];
  const top = PANEL_TOP[row];
  const ph = PANEL_H[row];
  const bottom = row === 1;
  const rows = FIT_X.map((x, i) => ({
    x,
    band: [spec.lo[i], spec.hi[i]],
    fit: i === 0 ? spec.fit[0] : i === FIT_X.length - 1 ? spec.fit[1] : null,
  }));
  const pts = spec.points.map(([x, y]) => ({ x, y, c: colorAt(x) }));
  const rug = spec.points.map(([x, y]) => ({ x: X_DOMAIN[0], y, c: colorAt(x) }));
  const tickStyle = { fontSize: 52, fill: TEXT, fontFamily: FONT };

  return (
    <>
      <div
        style={{
          position: "absolute",
          left,
          top: STRIP_TOP[row],
          width: PANEL_W,
          height: top - STRIP_TOP[row],
          background: STRIP,
          color: "#a9a9a9",
          fontFamily: FONT,
          fontSize: 63,
          lineHeight: 1,
          display: "flex",
          alignItems: "center",
          justifyContent: "center",
          paddingBottom: 12,
          boxSizing: "border-box",
        }}
      >
        <span>
          {spec.name}
          <span style={{ fontSize: 46, position: "relative", top: 14 }}>{spec.sub}</span>
        </span>
      </div>
      <div style={{ position: "absolute", left: left - Y_AXIS_W, top }}>
        <ComposedChart
          width={PANEL_W + Y_AXIS_W}
          height={ph + (bottom ? X_AXIS_H : 0)}
          data={rows}
          margin={{ top: 0, right: 0, bottom: 0, left: 0 }}
        >
          <CartesianGrid
            fill={BG}
            stroke={GRID_MINOR}
            strokeWidth={1.5}
            horizontalValues={spec.minor}
            verticalValues={X_MINOR}
          />
          <CartesianGrid stroke={GRID_MAJOR} strokeWidth={2.5} />
          <XAxis
            dataKey="x"
            type="number"
            domain={X_DOMAIN}
            ticks={X_TICKS}
            interval={0}
            allowDataOverflow
            hide={!bottom}
            height={X_AXIS_H}
            axisLine={false}
            tickSize={9}
            tickMargin={6}
            tickLine={{ stroke: TEXT, strokeWidth: 2 }}
            tick={tickStyle}
          />
          <YAxis
            type="number"
            domain={spec.domain}
            ticks={spec.ticks}
            interval={0}
            allowDataOverflow
            width={Y_AXIS_W}
            axisLine={false}
            tickSize={10}
            tickMargin={8}
            tickLine={{ stroke: TEXT, strokeWidth: 2 }}
            tick={tickStyle}
            tickFormatter={(v: number) => v.toFixed(spec.digits)}
          />
          <Scatter data={pts} dataKey="y" shape={Dot} isAnimationActive={false} zIndex={50} />
          <Scatter data={rug} dataKey="y" shape={RugTick} isAnimationActive={false} zIndex={50} />
          <Area
            dataKey="band"
            type="monotone"
            stroke="none"
            fill="#999999"
            fillOpacity={0.4}
            dot={false}
            activeDot={false}
            isAnimationActive={false}
            zIndex={100}
          />
          <Line
            dataKey="fit"
            type="linear"
            stroke={BLUE}
            strokeWidth={6}
            dot={false}
            activeDot={false}
            connectNulls
            isAnimationActive={false}
            zIndex={400}
          />
          {spec.zero && (
            <ReferenceLine
              segment={[
                { x: spec.zero[0], y: 0 },
                { x: spec.zero[1], y: 0 },
              ]}
              stroke="#ffffff"
              strokeWidth={7}
              strokeDasharray="26 19"
              ifOverflow="visible"
              zIndex={450}
            />
          )}
        </ComposedChart>
      </div>
      <div
        style={{
          position: "absolute",
          left,
          top,
          width: PANEL_W,
          height: ph,
          border: "3px solid #2c2c2c",
          boxSizing: "border-box",
          pointerEvents: "none",
        }}
      />
      <div
        style={{
          position: "absolute",
          left: left + xToPx(-6),
          top: top + 70,
          height: 83,
          padding: "0 16px",
          boxSizing: "border-box",
          border: "2.5px solid #ffffff",
          borderRadius: 8,
          background: "#000",
          color: "#fff",
          fontFamily: FONT,
          fontSize: 46,
          lineHeight: 1,
          display: "flex",
          alignItems: "center",
          whiteSpace: "pre",
        }}
      >
        <span>
          <i>R</i>
          <span style={{ fontSize: 32, position: "relative", top: -19 }}>2</span>
          {` = ${spec.r2} , `}
          <i>p</i>
          {` ${spec.op} ${spec.p}`}
        </span>
      </div>
    </>
  );
}

function Fraction({ sub }: { sub: string }) {
  return (
    <div style={{ display: "inline-flex", flexDirection: "column", alignItems: "center", marginTop: 7 }}>
      <div style={{ lineHeight: 1, height: 80, marginBottom: 17, fontSize: 74 }}>
        <b>S</b>
        <span style={{ fontSize: 48, position: "relative", top: 14 }}>{sub}</span>
      </div>
      <div style={{ height: 3, background: "#fff", alignSelf: "stretch" }} />
      <div style={{ lineHeight: 1, height: 80, marginTop: 22, whiteSpace: "pre", padding: "0 4px" }}>
        1<span style={{ padding: "0 34px" }}>+</span>e
        <span style={{ fontSize: 56, position: "relative", top: -42 }}>
          <b>a</b>
          <span style={{ fontSize: 38, position: "relative", top: 10 }}>{sub}</span>
          {"("}
          <b>b</b>
          <span style={{ fontSize: 38, position: "relative", top: 10 }}>{sub}</span>
          {"\u2212t)"}
        </span>
      </div>
    </div>
  );
}

function Title() {
  return (
    <div
      style={{
        position: "absolute",
        left: 157,
        top: 0,
        width: 3666,
        display: "flex",
        alignItems: "flex-start",
        justifyContent: "center",
        color: "#fff",
        fontFamily: FONT,
        fontSize: 81,
      }}
    >
      <span style={{ lineHeight: 1, marginTop: 57, whiteSpace: "pre" }}>
        {"Predicted Parameters vs. Seed Dilution Using f(t) = "}
      </span>
      <Fraction sub="1" />
      <span style={{ lineHeight: 1, margin: "57px 36px 0 36px" }}>+</span>
      <Fraction sub="2" />
    </div>
  );
}

function Legend() {
  const barLeft = 3378;
  const barW = 378;
  const stops = Array.from({ length: 13 }, (_, i) => -6 + (3 * i) / 12);
  return (
    <>
      <div
        style={{
          position: "absolute",
          left: 3380,
          top: 352,
          fontFamily: FONT,
          fontSize: 65,
          lineHeight: 1,
          color: TEXT,
          whiteSpace: "pre",
        }}
      >
        Dilution Factor
      </div>
      <svg style={{ position: "absolute", left: barLeft, top: 423 }} width={barW} height={46}>
        <defs>
          <linearGradient id="dilution" x1="0" y1="0" x2="1" y2="0">
            {stops.map((v) => (
              <stop key={v} offset={`${((v + 6) / 3) * 100}%`} stopColor={colorAt(v)} />
            ))}
          </linearGradient>
        </defs>
        <rect x={0} y={0} width={barW} height={46} fill="url(#dilution)" />
        {LEGEND_TICKS.map((t) => {
          const x = ((t + 6) / 3) * barW;
          const cx = Math.min(barW - 1, Math.max(1, x));
          return (
            <g key={t} stroke="#ffffff" strokeOpacity={0.75} strokeWidth={2}>
              <line x1={cx} x2={cx} y1={0} y2={9} />
              <line x1={cx} x2={cx} y1={37} y2={46} />
            </g>
          );
        })}
      </svg>
      {LEGEND_TICKS.map((t) => (
        <div
          key={t}
          style={{
            position: "absolute",
            left: barLeft + ((t + 6) / 3) * barW - 100,
            width: 200,
            top: 480,
            textAlign: "center",
            fontFamily: FONT,
            fontSize: 54,
            lineHeight: 1,
            color: TEXT,
          }}
        >
          {String(t)}
        </div>
      ))}
    </>
  );
}

export default function App() {
  return (
    <div
      style={{
        position: "absolute",
        left: 0,
        top: 0,
        width: 3840,
        height: 2304,
        background: BG,
        overflow: "hidden",
      }}
    >
      <Title />
      {PANELS.map((spec, i) => (
        <Panel key={i} spec={spec} col={i % 3} row={Math.floor(i / 3)} />
      ))}
      <Legend />
      <div
        style={{
          position: "absolute",
          left: 38 - 600,
          top: 1232 - 40,
          width: 1200,
          height: 80,
          transform: "rotate(-90deg)",
          textAlign: "center",
          fontFamily: FONT,
          fontSize: 64,
          lineHeight: "80px",
          color: TEXT,
        }}
      >
        Coefficient Value
      </div>
      <div
        style={{
          position: "absolute",
          left: 157,
          width: 3666,
          top: 2208,
          textAlign: "center",
          fontFamily: FONT,
          fontSize: 64,
          lineHeight: 1,
          color: TEXT,
          whiteSpace: "pre",
        }}
      >
        Log<span style={{ fontSize: 45, position: "relative", top: 16 }}>10</span>
        {" Seed Dilution Factor"}
      </div>
    </div>
  );
}
